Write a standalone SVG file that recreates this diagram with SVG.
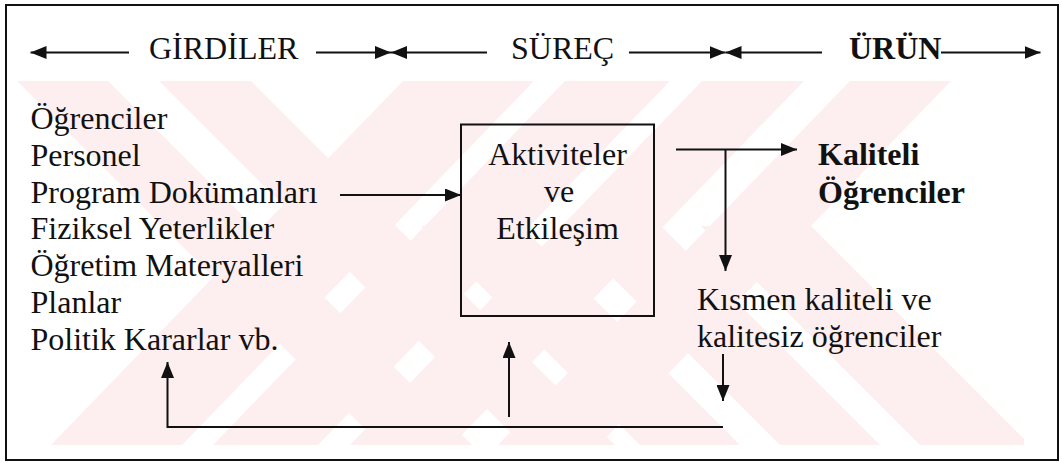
<svg xmlns="http://www.w3.org/2000/svg" width="1062" height="463" viewBox="0 0 1062 463">
  <style>
    text { font-family: 'Liberation Serif', 'Times New Roman', serif; font-size: 32px; fill: #111; }
    .b { font-weight: bold; }
    .ln { stroke: #111; stroke-width: 2; fill: none; }
    .wm { fill: #fdeef0; }
  </style>
  <defs>
    <marker id="ah" markerUnits="userSpaceOnUse" markerWidth="16" markerHeight="13" refX="16" refY="6.5" orient="auto">
      <path d="M0,0 L16,6.5 L0,13 z" fill="#111"/>
    </marker>
    <clipPath id="wmclip">
      <rect x="17" y="81" width="1007" height="364"/>
    </clipPath>
  </defs>
  <rect x="0" y="0" width="1062" height="463" fill="#fff"/>
  <g id="watermark" clip-path="url(#wmclip)">
    <polygon class="wm" points="17,81 108,81 472,445 381,445"/>
    <polygon class="wm" points="159,81 251,81 615,445 523,445"/>
    <polygon class="wm" points="403,81 534,81 182,445 51,445"/>
    <polygon class="wm" points="565,81 670,81 318,445 213,445"/>
    <polygon class="wm" points="702,81 804,81 452,445 350,445"/>
    <polygon class="wm" points="850,81 951,81 599,445 498,445"/>
    <polygon class="wm" points="421,226 521,226 740,445 640,445"/>
    <polygon class="wm" points="561,226 661,226 880,445 780,445"/>
    <polygon class="wm" points="701,226 811,226 1030,445 920,445"/>
  </g>
  <rect id="frame" x="6" y="5" width="1052" height="455" fill="none" stroke="#111" stroke-width="2"/>
  <g id="header">
    <text x="149" y="59">GİRDİLER</text>
    <text x="511" y="59">SÜREÇ</text>
    <text class="b" x="849" y="59">ÜRÜN</text>
  </g>
  <g id="inputs">
    <text x="30.5" y="129">Öğrenciler</text>
    <text x="30.5" y="165.8">Personel</text>
    <text x="30.5" y="202.6">Program Dokümanları</text>
    <text x="30.5" y="239.4">Fiziksel Yeterlikler</text>
    <text x="30.5" y="276.2">Öğretim Materyalleri</text>
    <text x="30.5" y="313">Planlar</text>
    <text x="30.5" y="349.8">Politik Kararlar vb.</text>
  </g>
  <g id="process">
    <rect x="461" y="124.5" width="193" height="191.5" fill="none" stroke="#111" stroke-width="2"/>
    <text x="557.5" y="164.5" text-anchor="middle">Aktiviteler</text>
    <text x="559" y="201.8" text-anchor="middle">ve</text>
    <text x="557.5" y="238.5" text-anchor="middle">Etkileşim</text>
  </g>
  <g id="quality-output">
    <text class="b" x="818" y="165">Kaliteli</text>
    <text class="b" x="818" y="202.5">Öğrenciler</text>
  </g>
  <g id="partial-output">
    <text x="697" y="309.5">Kısmen kaliteli ve</text>
    <text x="697" y="346.8">kalitesiz öğrenciler</text>
  </g>
  <g id="connectors">
    <line class="ln" x1="129" y1="52.5" x2="30.5" y2="52.5" marker-end="url(#ah)"/>
    <line class="ln" x1="316" y1="52.5" x2="391" y2="52.5" marker-end="url(#ah)"/>
    <line class="ln" x1="487" y1="52.5" x2="391" y2="52.5" marker-end="url(#ah)"/>
    <line class="ln" x1="629" y1="52.5" x2="725.5" y2="52.5" marker-end="url(#ah)"/>
    <line class="ln" x1="822" y1="52.5" x2="725.5" y2="52.5" marker-end="url(#ah)"/>
    <line class="ln" x1="941" y1="52.5" x2="1040.5" y2="52.5" marker-end="url(#ah)"/>
    <line class="ln" x1="340" y1="195" x2="461" y2="195" marker-end="url(#ah)"/>
    <line class="ln" x1="676" y1="149.5" x2="797" y2="149.5" marker-end="url(#ah)"/>
    <line class="ln" x1="725.5" y1="149.5" x2="725.5" y2="271" marker-end="url(#ah)"/>
    <line class="ln" x1="723" y1="354" x2="723" y2="401" marker-end="url(#ah)"/>
    <polyline class="ln" points="723,427 167.5,427 167.5,362" marker-end="url(#ah)"/>
    <line class="ln" x1="509" y1="417" x2="509" y2="342" marker-end="url(#ah)"/>
  </g>
</svg>
